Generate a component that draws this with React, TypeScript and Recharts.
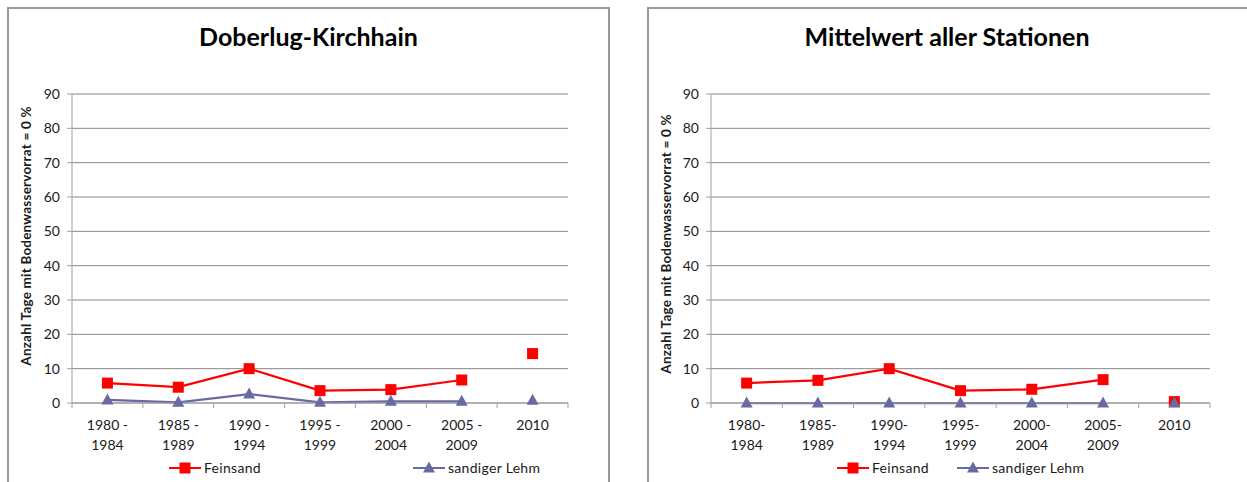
import { LineChart, Line, XAxis, YAxis, CartesianGrid, Legend } from 'recharts';

const FONT = 'Lato, "Noto Sans", sans-serif';

// 5-year periods plus the single year 2010
const periodsDK = ['1980 -\n1984', '1985 -\n1989', '1990 -\n1994', '1995 -\n1999', '2000 -\n2004', '2005 -\n2009', '2010'];
const periodsAll = ['1980-\n1984', '1985-\n1989', '1990-\n1994', '1995-\n1999', '2000-\n2004', '2005-\n2009', '2010'];

// days with 0 % soil water, Doberlug-Kirchhain
const feinsandDK = [5.8, 4.6, 10.0, 3.6, 3.9, 6.7, 14.4];
const lehmDK = [0.9, 0.2, 2.6, 0.2, 0.5, 0.5, 0.8];

// mean of all stations
const feinsandAll = [5.8, 6.6, 10.0, 3.6, 4.0, 6.8, 0.4];
const lehmAll = [0, 0, 0, 0, 0, 0, 0];

const yTicks = [0, 10, 20, 30, 40, 50, 60, 70, 80, 90];
const xTicks = [-0.5, 0, 0.5, 1, 1.5, 2, 2.5, 3, 3.5, 4, 4.5, 5, 5.5, 6, 6.5];

const RED = '#ff0000';
const PURPLE = '#6a6aa3';
const GRID = '#888888';
const AXIS = '#a0a0a0';
const TEXT = '#1a1a1a';

// the last value (2010) stands alone, so it goes into its own unconnected series
const buildRows = (feinsand: number[], lehm: number[]) =>
  feinsand.map((v, i) => {
    const last = i === feinsand.length - 1;
    return {
      x: i,
      feinsand: last ? null : v,
      feinsandSingle: last ? v : null,
      lehm: last ? null : lehm[i],
      lehmSingle: last ? lehm[i] : null,
    };
  });

const squareDot = (p: any) => {
  if (p.cy == null || p.value == null) return <g key={`sq-${p.index}`} />;
  return <rect key={`sq-${p.index}`} x={p.cx - 5.5} y={p.cy - 5.5} width={11} height={11} fill={RED} />;
};

const triangleDot = (p: any) => {
  if (p.cy == null || p.value == null) return <g key={`tr-${p.index}`} />;
  const { cx, cy } = p;
  return <path key={`tr-${p.index}`} d={`M${cx},${cy - 6.5} L${cx + 6},${cy + 4.5} L${cx - 6},${cy + 4.5} Z`} fill={PURPLE} />;
};

const PeriodTick = ({ x, y, payload, labels }: any) => {
  const v = payload.value;
  if (!Number.isInteger(v)) {
    return <line x1={x} x2={x} y1={y} y2={y + 5} stroke={AXIS} />;
  }
  const lines = String(labels[v]).split('\n');
  return (
    <text x={x} y={y} textAnchor="middle" fontSize={14} fill={TEXT} fontFamily={FONT}>
      {lines.map((l, i) => (
        <tspan key={i} x={x} y={y + 27 + i * 20}>{l}</tspan>
      ))}
    </text>
  );
};

const LegendMarker = ({ kind, color }: { kind: string; color: string }) => (
  <svg width={32} height={14}>
    <line x1={0} x2={32} y1={7} y2={7} stroke={color} strokeWidth={2} />
    {kind === 'square' ? (
      <rect x={10.5} y={1.5} width={11} height={11} fill={color} />
    ) : (
      <path d="M16,0.5 L22,11.5 L10,11.5 Z" fill={color} />
    )}
  </svg>
);

const legendKeys = ['feinsand', 'lehm'];

const SeriesLegend = ({ payload, offsets }: any) => {
  const entries = (payload || []).filter((e: any) => legendKeys.includes(e.dataKey));
  return (
    <div style={{ position: 'relative', height: 16, fontFamily: FONT, fontSize: 14, color: TEXT }}>
      {entries.map((entry: any, i: number) => (
        <div key={entry.dataKey} style={{ position: 'absolute', left: offsets[i], top: 0, display: 'flex', alignItems: 'center', whiteSpace: 'nowrap' }}>
          <LegendMarker kind={entry.dataKey === 'feinsand' ? 'square' : 'triangle'} color={entry.color} />
          <span style={{ marginLeft: 3, letterSpacing: 0.3 }}>{entry.value}</span>
        </div>
      ))}
    </div>
  );
};

const AxisTitle = ({ x, y }: { x: number; y: number }) => (
  <text
    x={x}
    y={y}
    transform={`rotate(-90, ${x}, ${y})`}
    textAnchor="middle"
    dominantBaseline="central"
    fontSize={13.5}
    fontWeight="bold"
    fill={TEXT}
    fontFamily={FONT}
    letterSpacing={0.2}
  >
    Anzahl Tage mit Bodenwasservorrat = 0 %
  </text>
);

interface PanelProps {
  left: number;
  width: number;
  marginLeft: number;
  marginRight: number;
  labels: string[];
  feinsand: number[];
  lehm: number[];
  axisTitle: { x: number; y: number };
  legendLeft: number;
  legendOffsets: number[];
}

const StationChart = ({ left, width, marginLeft, marginRight, labels, feinsand, lehm, axisTitle, legendLeft, legendOffsets }: PanelProps) => {
  const rows = buildRows(feinsand, lehm);
  return (
    <div style={{ position: 'absolute', left, top: 0, width, height: 482 }}>
      <LineChart width={width} height={482} data={rows} margin={{ top: 94, right: marginRight, bottom: 39, left: marginLeft }}>
        <CartesianGrid horizontal vertical={false} stroke={GRID} />
        <XAxis
          dataKey="x"
          type="number"
          domain={[-0.5, 6.5]}
          ticks={xTicks}
          interval={0}
          height={40}
          tickSize={0}
          tickMargin={0}
          tickLine={false}
          stroke={AXIS}
          tick={(p: any) => <PeriodTick {...p} labels={labels} />}
        />
        <YAxis
          type="number"
          domain={[0, 90]}
          ticks={yTicks}
          interval={0}
          width={50}
          tickSize={5}
          tickMargin={7}
          stroke={AXIS}
          tick={{ fontSize: 14, fill: TEXT, fontFamily: FONT }}
          label={{ content: () => <AxisTitle x={axisTitle.x} y={axisTitle.y} /> }}
        />
        <Legend
          verticalAlign="middle"
          align="center"
          wrapperStyle={{ position: 'absolute', left: legendLeft, top: 459, width: 420, height: 16 }}
          content={(p: any) => <SeriesLegend {...p} offsets={legendOffsets} />}
        />
        <Line dataKey="feinsand" name="Feinsand" stroke={RED} strokeWidth={2.25} dot={squareDot} activeDot={false} connectNulls={false} isAnimationActive={false} />
        <Line dataKey="feinsandSingle" legendType="none" stroke={RED} strokeWidth={2.25} dot={squareDot} activeDot={false} isAnimationActive={false} />
        <Line dataKey="lehm" name="sandiger Lehm" stroke={PURPLE} strokeWidth={2.25} dot={triangleDot} activeDot={false} connectNulls={false} isAnimationActive={false} />
        <Line dataKey="lehmSingle" legendType="none" stroke={PURPLE} strokeWidth={2.25} dot={triangleDot} activeDot={false} isAnimationActive={false} />
      </LineChart>
    </div>
  );
};

const titleStyle = (left: number, width: number): React.CSSProperties => ({
  position: 'absolute',
  left,
  width,
  top: 24,
  textAlign: 'center',
  fontFamily: FONT,
  fontWeight: 'bold',
  fontSize: 25,
  lineHeight: '25px',
  color: '#000',
});

export default function App() {
  return (
    <div style={{ position: 'absolute', left: 0, top: 0, width: 1247, height: 482, overflow: 'hidden', background: '#fff' }}>
      <div style={{ position: 'absolute', left: 7, top: 7, width: 603, height: 500, boxSizing: 'border-box', border: '2px solid #9a9a9a' }} />
      <div style={{ position: 'absolute', left: 647, top: 7, width: 620, height: 500, boxSizing: 'border-box', border: '2px solid #9a9a9a' }} />

      <div style={titleStyle(7, 603)}>Doberlug-Kirchhain</div>
      <div style={titleStyle(647, 600)}>Mittelwert aller Stationen</div>

      <StationChart
        left={0}
        width={610}
        marginLeft={22}
        marginRight={42}
        labels={periodsDK}
        feinsand={feinsandDK}
        lehm={lehmDK}
        axisTitle={{ x: 26, y: 236 }}
        legendLeft={169}
        legendOffsets={[0, 244]}
      />
      <StationChart
        left={640}
        width={607}
        marginLeft={21}
        marginRight={37}
        labels={periodsAll}
        feinsand={feinsandAll}
        lehm={lehmAll}
        axisTitle={{ x: 25.5, y: 244 }}
        legendLeft={197}
        legendOffsets={[0, 120]}
      />
    </div>
  );
}
